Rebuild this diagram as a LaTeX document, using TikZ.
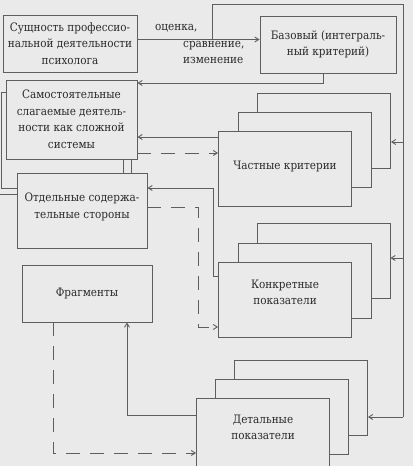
\documentclass[tikz,border=0pt]{standalone}
\usepackage{fontspec}
\setmainfont{DejaVu Serif Condensed}
\usetikzlibrary{arrows.meta}
\definecolor{bg}{HTML}{EAEAEA}
\definecolor{ln}{HTML}{5E5E5E}
\definecolor{tx}{HTML}{2A2A2A}
\newcommand\liftlines[2]{\raisebox{#1}[0pt][0pt]{\begin{tabular}{@{}c@{}}#2\end{tabular}}}
\begin{document}
\begin{tikzpicture}[x=1pt,y=-1pt,
  txt/.style={text=tx, font=\fontsize{11.6}{16.5}\selectfont},
  box/.style={txt, draw=ln, fill=bg, line width=0.9pt, align=center, inner sep=1pt},
  stackbox/.style={box, minimum width=133pt, minimum height=75pt},
  con/.style={draw=ln, line width=0.9pt},
  arr/.style={con, -{Straight Barb[length=4pt,width=5pt]}},
  dsh/.style={dash pattern=on 14pt off 10pt}
]
\fill[bg] (0,0) rectangle (413,466);
\useasboundingbox (0,0) rectangle (413,466);
\clip (0,0) rectangle (413,466);

% left column
\node[box, minimum width=134pt, minimum height=57pt] (s1) at (70,43.5)
  {Сущность профессио-\\нальной деятельности\\психолога};
\node[box, minimum width=136pt, minimum height=57pt] (bz) at (328,44.5)
  {Базовый (интеграль-\\ный критерий)};
\node[box, minimum width=131pt, minimum height=79pt] (sam) at (71.5,119.5)
  {Самостоятельные\\слагаемые деятель-\\ности как сложной\\системы};
\node[box, minimum width=130pt, minimum height=75pt] (otd) at (82,210.5)
  {\liftlines{1pt}{Отдельные содержа-\\тельные стороны}};
\node[box, minimum width=130pt, minimum height=57pt] (frg) at (87,293.5)
  {Фрагменты};

% stacks
\node[stackbox] (chB) at (324,131) {};
\node[stackbox] (chM) at (305,150) {};
\node[stackbox] (chF) at (285,169) {\liftlines{0pt}{Частные критерии}};

\node[stackbox] (knB) at (323.5,261) {};
\node[stackbox] (knM) at (304.5,280.5) {};
\node[stackbox] (knF) at (285,300) {\liftlines{4pt}{Конкретные\\показатели}};

\node[stackbox] (dB) at (301,398) {};
\node[stackbox] (dM) at (281.5,417) {};
\node[stackbox] (dF) at (263,436) {\liftlines{5pt}{Детальные\\показатели}};

% label
\node[txt, align=left, anchor=west, inner sep=0pt] (lbl) at (155,44)
  {оценка,\\\hspace*{28pt}сравнение,\\\hspace*{28pt}изменение};

% main arrow
\draw[arr] ([yshift=4pt]s1.east) -- ([yshift=4pt]s1.east -| bz.west);
\coordinate (J) at (212,40);
\coordinate (TR) at (403,4);
\coordinate (BR) at (403,417);
\coordinate (R1) at (403,142);
\coordinate (R2) at (403,258);
\draw[con] (J) |- (TR) -- (BR);
\draw[arr] (BR) -- (BR -| dB.east);
\draw[arr] (R1) -- (R1 -| chB.east);
\draw[arr] (R2) -- (R2 -| knB.east);

% Базовый -> Самостоятельные
\draw[arr] ([xshift=-5pt]bz.south) |- ([yshift=36.5pt]sam.east);
% Частные -> Самостоятельные
\draw[arr] ([yshift=32pt]chF.west) -- ([yshift=32pt]chF.west -| sam.east);
% Самостоятельные -> Частные (dashed)
\draw[arr, dsh] ([yshift=16pt]chF.west -| sam.east) -- ([yshift=16pt]chF.west);

% Конкретные -> Отдельные
\draw[arr] ([yshift=24pt]knF.west) -- ++(-5,0) |- ([yshift=22.5pt]otd.east);
% Отдельные -> Конкретные (dashed)
\draw[arr, dsh] ([yshift=3.5pt]otd.east) -| ([xshift=-20pt,yshift=-27pt]knF.west) -- ([yshift=-27pt]knF.west);

% Детальные -> Фрагменты
\draw[arr] ([yshift=21pt]dF.west) -| ([xshift=40pt]frg.south);
% Фрагменты -> Детальные (dashed)
\draw[arr, dsh] ([xshift=-34pt]frg.south) |- ([yshift=-17pt]dF.west);

% links between Самостоятельные and Отдельные
\draw[con] ([xshift=51.5pt]sam.south) -- ([xshift=51.5pt]sam.south |- otd.north);
\draw[con] ([xshift=59.5pt]sam.south) -- ([xshift=59.5pt]sam.south |- otd.north);
\coordinate (L1) at (1.5,92);
\coordinate (L2) at (0,194);
\draw[con] ([yshift=27.5pt]sam.west) -- (L1) |- ([yshift=22.5pt]otd.west);
\draw[con] (L2) -- (L2 -| otd.west);
\end{tikzpicture}
\end{document}
